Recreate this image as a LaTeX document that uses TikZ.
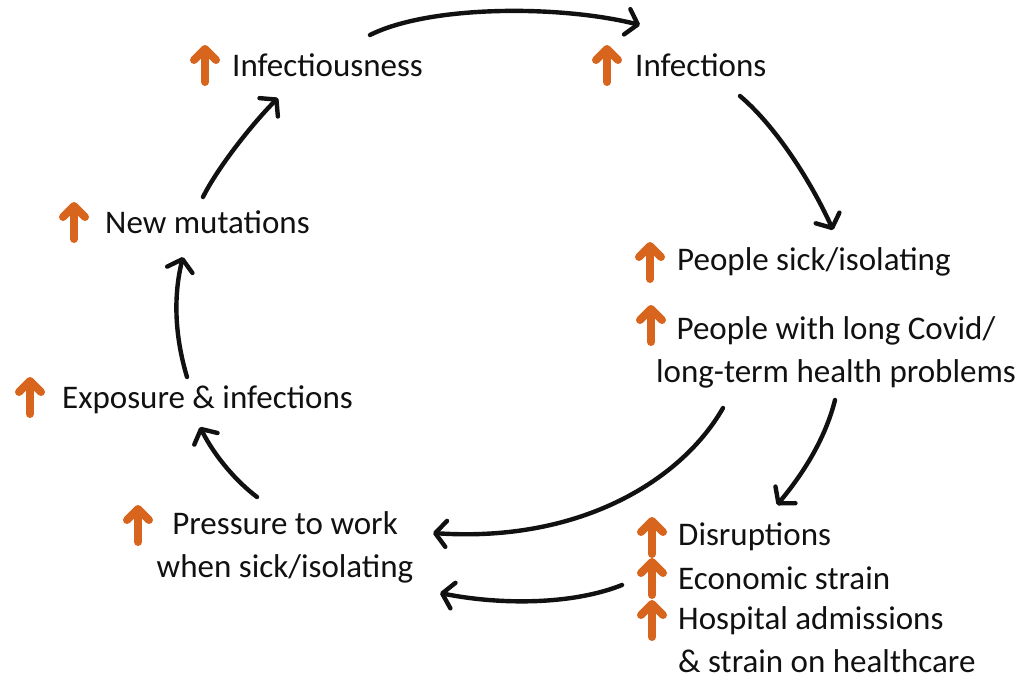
\documentclass[tikz,border=0pt]{standalone}
\usepackage{fontspec}
\setmainfont{Carlito}
\usepackage{xcolor}
\usepackage{tikz}
\usetikzlibrary{arrows.meta,positioning,calc}
\definecolor{riseorange}{HTML}{D8651E}
\definecolor{inkblack}{HTML}{111111}

\begin{document}
\begin{tikzpicture}[
  x=1pt,y=-1pt,
  font=\fontsize{33}{43}\selectfont,
  item/.style={anchor=west,inner sep=0pt,text=inkblack},
  itemc/.style={inner sep=0pt,text=inkblack,align=center},
  flow/.style={-{Straight Barb[round,length=11pt,width=26pt]},line width=4.4pt,draw=inkblack,line cap=round},
  upicon/.pic={
    \draw[riseorange,line width=8pt,line cap=round] (0,17) -- (0,-13);
    \draw[riseorange,line width=8pt,line cap=round,line join=round] (-11,-5) -- (0,-16) -- (11,-5);
  }
]
  \useasboundingbox[fill=white] (0,0) rectangle (1023,680);

  \node[item] (infectious) at (232,65) {Infectiousness};
  \node[item] (infections) at (635,65) {Infections};
  \node[item] (sick) at (677,262) {People sick/isolating};
  \node[itemc] (longcovid) at (836,352) {People with long Covid/\\long-term health problems};
  \node[item] (disrupt) at (678,537) {Disruptions};
  \node[item] (econ) at (678,578) {Economic strain};
  \node[item,align=left] (hospital) at (678,640) {Hospital admissions\\\& strain on healthcare};
  \node[itemc] (pressure) at (285,547) {Pressure to work\\when sick/isolating};
  \node[item] (exposure) at (62,400) {Exposure \& infections};
  \node[item] (mutations) at (105,222) {New mutations};

  % orange up arrows
  \pic at (205,65) {upicon};
  \pic at (607,65) {upicon};
  \pic at (650,262) {upicon};
  \pic at (651,325) {upicon};
  \pic at (652,537) {upicon};
  \pic at (652,578) {upicon};
  \pic at (652,620) {upicon};
  \pic at (138,525) {upicon};
  \pic at (30,397) {upicon};
  \pic at (74,222) {upicon};

  \draw[flow] ([shift={(138,-30)}]infectious.west) .. controls +(60,-30) and +(-80,-20) .. ([shift={(5,-40)}]infections.west);
  \draw[flow] ([shift={(105,31)}]infections.west) .. controls +(40,34) and +(-18,-40) .. ([shift={(156,-32)}]sick.west);
  \draw[flow] ([shift={(-113,56)}]longcovid.center) .. controls +(-40,70) and +(150,10) .. ([shift={(148,-14)}]pressure.center);
  \draw[flow] ([shift={(-1,48)}]longcovid.center) .. controls +(-10,40) and +(25,-30) .. ([shift={(99,-32)}]disrupt.west);
  \draw[flow] ([shift={(-56,7)}]econ.west) .. controls +(-50,20) and +(60,12) .. ([shift={(155,46)}]pressure.center);
  \draw[flow] ([shift={(-28,-50)}]pressure.center) .. controls +(-20,-15) and +(15,30) .. ([shift={(138,27)}]exposure.west);
  \draw[flow] ([shift={(125,-23)}]exposure.west) .. controls +(-12,-40) and +(-10,40) .. ([shift={(78,35)}]mutations.west);
  \draw[flow] ([shift={(98,-25)}]mutations.west) .. controls +(15,-30) and +(-25,25) .. ([shift={(46,33)}]infectious.west);
\end{tikzpicture}
\end{document}
